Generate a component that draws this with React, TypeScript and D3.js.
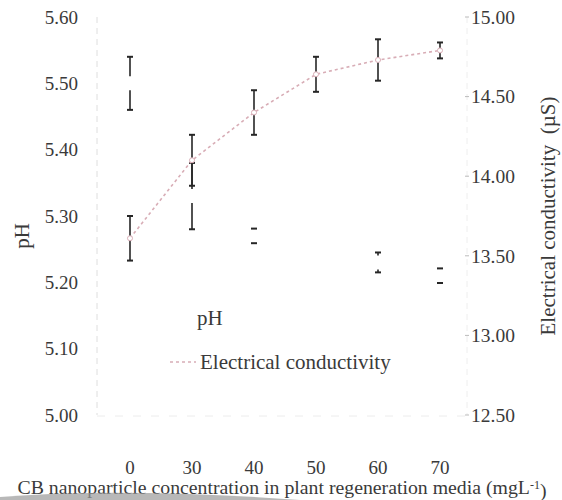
import React from 'react';
import * as d3 from 'd3';

// CB nanoparticle concentration (mg/L)
const concentrations = ['0', '30', '40', '50', '60', '70'];
const phMean = [5.5, 5.33, 5.27, 5.275, 5.23, 5.21];
const phErr = [0.04, 0.05, 0.011, 0, 0.015, 0.011];
const ecMean = [13.61, 14.1, 14.4, 14.64, 14.73, 14.79];
const ecErr = [0.14, 0.16, 0.14, 0.11, 0.13, 0.05];
const phTicks = [5.0, 5.1, 5.2, 5.3, 5.4, 5.5, 5.6];
const ecTicks = [12.5, 13.0, 13.5, 14.0, 14.5, 15.0];

const W = 562;
const H = 500;
const FONT = '"Liberation Serif", "Times New Roman", serif';
const TEXT = '#3a3a3a';
const BAR = '#262626';
const EC_COLOR = '#d8adb6';

const App = () => {
    const x = d3.scalePoint().domain(concentrations).range([130, 440]);
    const yL = d3.scaleLinear().domain([5.0, 5.6]).range([415, 17]);
    const yR = d3.scaleLinear().domain([12.5, 15.0]).range([415, 17]);

    const ecLine = d3.line<number>()
        .x((d, i) => x(concentrations[i]) as number)
        .y(d => yR(d));

    const cap = 3;
    const gap = 7;

    return (
        <div style={{ position: 'absolute', left: 0, top: 0 }}>
            <svg width={W} height={H} style={{ display: 'block', background: '#fff' }}>
                {/* faint axes */}
                <line x1={97} x2={97} y1={17} y2={415} stroke="#dedede" strokeDasharray="6,5" />
                <line x1={467} x2={467} y1={17} y2={415} stroke="#eeeeee" strokeDasharray="6,5" />
                <line x1={97} x2={467} y1={416} y2={416} stroke="#ececec" strokeDasharray="8,10" />

                {/* left ticks */}
                {phTicks.map(t => (
                    <text key={'l' + t} x={78} y={yL(t)} dy="0.35em" textAnchor="end"
                        fontFamily={FONT} fontSize={19} fill={TEXT}>{t.toFixed(2)}</text>
                ))}
                {/* right ticks */}
                {ecTicks.map(t => (
                    <g key={'r' + t}>
                        <line x1={465} x2={469} y1={yR(t)} y2={yR(t)} stroke="#bbb" />
                        <text x={471} y={yR(t)} dy="0.35em" textAnchor="start"
                            fontFamily={FONT} fontSize={19.5} fill={TEXT}>{t.toFixed(2)}</text>
                    </g>
                ))}
                {/* x ticks */}
                {concentrations.map(c => (
                    <text key={'x' + c} x={x(c)} y={467} dy="0.35em" textAnchor="middle"
                        fontFamily={FONT} fontSize={19} fill={TEXT}>{c}</text>
                ))}

                {/* pH error bars (bars themselves are white) */}
                {phMean.map((m, i) => {
                    if (phErr[i] <= 0) return null;
                    const cx = x(concentrations[i]) as number;
                    const top = yL(m + phErr[i]);
                    const bot = yL(m - phErr[i]);
                    const mid = yL(m);
                    return (
                        <g key={'ph' + i} stroke={BAR} strokeWidth={1.6}>
                            {top < mid - gap && <line x1={cx} x2={cx} y1={top} y2={mid - gap} />}
                            {bot > mid + gap && <line x1={cx} x2={cx} y1={mid + gap} y2={bot} />}
                            <line x1={cx - cap} x2={cx + cap} y1={top} y2={top} strokeWidth={2} />
                            <line x1={cx - cap} x2={cx + cap} y1={bot} y2={bot} strokeWidth={2} />
                        </g>
                    );
                })}

                {/* EC error bars */}
                {ecMean.map((m, i) => {
                    const cx = x(concentrations[i]) as number;
                    const top = yR(m + ecErr[i]);
                    const bot = yR(m - ecErr[i]);
                    return (
                        <g key={'ec' + i} stroke={BAR} strokeWidth={1.6}>
                            <line x1={cx} x2={cx} y1={top} y2={bot} />
                            <line x1={cx - cap} x2={cx + cap} y1={top} y2={top} strokeWidth={2} />
                            <line x1={cx - cap} x2={cx + cap} y1={bot} y2={bot} strokeWidth={2} />
                        </g>
                    );
                })}

                {/* EC line */}
                <path d={ecLine(ecMean) ?? ''} fill="none" stroke={EC_COLOR} strokeWidth={1.6} strokeDasharray="3,3" />
                {ecMean.map((m, i) => (
                    <circle key={'m' + i} cx={x(concentrations[i]) as number} cy={yR(m)} r={2.5}
                        fill="#fff" stroke={EC_COLOR} strokeWidth={1} />
                ))}

                {/* legend */}
                <text x={197} y={318} dy="0.35em" fontFamily={FONT} fontSize={21} fill={TEXT}>pH</text>
                <line x1={170} x2={196} y1={362} y2={362} stroke={EC_COLOR} strokeWidth={1.6} strokeDasharray="3,3" />
                <text x={200} y={362} dy="0.35em" fontFamily={FONT} fontSize={21} fill={TEXT}>Electrical conductivity</text>

                {/* axis titles */}
                <text transform="translate(22,236) rotate(-90)" textAnchor="middle" dy="0.35em"
                    fontFamily={FONT} fontSize={21} fill={TEXT}>pH</text>
                <text transform="translate(548,216) rotate(-90)" textAnchor="middle" dy="0.35em"
                    fontFamily={FONT} fontSize={21} fill={TEXT} xmlSpace="preserve">Electrical conductivity  (µS)</text>
                <text x={282} y={487} dy="0.35em" textAnchor="middle" fontFamily={FONT} fontSize={19.8} fill={TEXT}>
                    CB nanoparticle concentration in plant regeneration media (mgL
                    <tspan dy="-0.45em" fontSize={12}>-1</tspan>
                    <tspan dy="0.45em">)</tspan>
                </text>

                {/* scan shadow at the bottom */}
                <path d="M0,497 Q120,487 300,500 L0,500 Z" fill="#9a9a9a" opacity={0.7} />
            </svg>
        </div>
    );
};

export default App;
